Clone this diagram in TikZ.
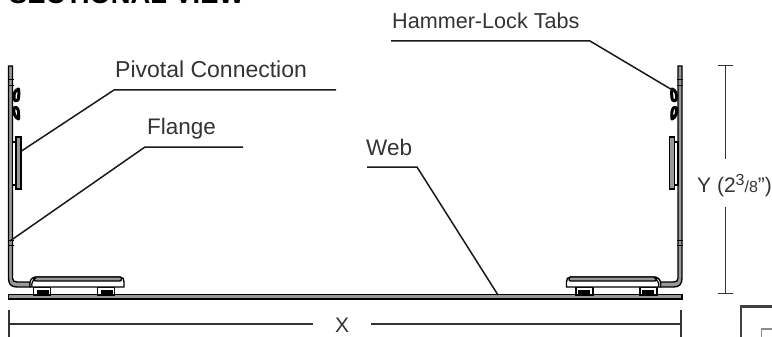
\documentclass[tikz,border=0pt]{standalone}
\usepackage{fontspec}
\setmainfont{Liberation Sans}
\usepackage{tikz}
\tikzset{
  lbl/.style={anchor=base west,inner sep=0pt,text=black!80,font=\fontsize{22.5}{24}\selectfont},
  leader/.style={line width=1.5pt,black!90},
  dimline/.style={line width=1.6pt,black!80},
  steel/.style={line width=1.35pt,fill=black!40},
  part/.style={line width=1.35pt,fill=white},
  tab/.style={line width=3pt,fill=white,line join=round}
}

\begin{document}
\begin{tikzpicture}[x=1pt,y=-1pt]
    \useasboundingbox (0,0) rectangle (772,337);
    % Title, cut by the top of the page
    \node[anchor=base west,inner sep=0pt,font=\fontsize{27.3}{28}\selectfont\bfseries] (title) at (9,3.5) {SECTIONAL VIEW};
    % Draw the web
    \draw[steel] (8.5,294.5) rectangle (682,299);
    % Draw the left side, then the same again mirrored for the right side
    \foreach \shiftx/\flip in {0/1, 690.5/-1}{
    \begin{scope}[shift={(\shiftx,0)},xscale=\flip]
      % legs under the foot
      \foreach \x in {33.5, 97.5}{
        \draw[part] (\x,287) rectangle (\x+17,295);
        \fill[black] (\x+3,290) rectangle (\x+15,294.5);
      }
      % flange with its bend and the foot
      \draw[steel] (8.5,66) -- (12.5,66) -- (12.5,278) .. controls (12.5,281) and (14,282) .. (17,282)
        -- (30,282) -- (30,287) -- (17,287) .. controls (11,287) and (8.5,284) .. (8.5,278) -- cycle;
      \draw[part] (30,287) -- (30,283) .. controls (30,279) and (33,277) .. (37,277) -- (120,277)
        .. controls (123,277) and (124,279) .. (124,282) -- (124,287) -- cycle;
      \draw[steel] (36,277) -- (120,277) .. controls (122,277) and (122,281) .. (120,281) -- (36,281)
        .. controls (33,281) and (33,277) .. (36,277) -- cycle;
      \draw[line width=1.2pt] (32,287) .. controls (31,283) and (33,280) .. (36,278);
      % small marks across the flange
      \foreach \y in {80, 86, 240, 245}{
        \draw[line width=1pt] (7.5,\y) -- (13.5,\y);
      }
      % pivotal plate
      \draw[part] (12.5,142) rectangle (16,185);
      \draw[steel] (16,137) rectangle (21,189);
      % hammer-lock tabs
      \draw[tab] (18.5,89) .. controls (15,90) and (13.5,94) .. (14,98) .. controls (14,101) and (17,102) .. (18,100)
        .. controls (19,97) and (19,92) .. (18.5,89) -- cycle;
      \draw[tab] (14,108) .. controls (13,112) and (15,118) .. (18.5,119) .. controls (19,115) and (19,110) .. (17,108)
        .. controls (16,107) and (15,107) .. (14,108) -- cycle;
    \end{scope}
    }
    % Draw the leader lines and their labels
    \node[lbl,font=\fontsize{23}{24}\selectfont] (pivotal) at (115,78) {Pivotal Connection};
    \coordinate (pivotalTip) at (21.5,151);
    \coordinate (pivotalBend) at (114,90);
    \coordinate (pivotalEnd) at (336,90);
    \draw[leader] (pivotalTip) -- (pivotalBend) -- (pivotalEnd);
    \node[lbl] (flange) at (147,135) {Flange};
    \coordinate (flangeTip) at (10,241);
    \coordinate (flangeBend) at (145,147);
    \coordinate (flangeEnd) at (243,147);
    \draw[leader] (flangeTip) -- (flangeBend) -- (flangeEnd);
    \node[lbl] (web) at (366,155) {Web};
    \coordinate (webStart) at (367,167);
    \coordinate (webBend) at (417,167);
    \coordinate (webTip) at (498,295);
    \draw[leader] (webStart) -- (webBend) -- (webTip);
    \node[lbl,font=\fontsize{21.6}{24}\selectfont] (hammer) at (392,29) {Hammer-Lock Tabs};
    \coordinate (hammerStart) at (391,41);
    \coordinate (hammerBend) at (590,41);
    \coordinate (hammerTip) at (674,91);
    \draw[leader] (hammerStart) -- (hammerBend) -- (hammerTip);
    % Draw the X dimension
    \node[lbl,font=\fontsize{21}{24}\selectfont] (dimX) at (335,332) {X};
    \coordinate (xLeft) at (9,324);
    \coordinate (xGapA) at (313,324);
    \coordinate (xGapB) at (371,324);
    \coordinate (xRight) at (681,324);
    \draw[dimline] (xLeft) -- (xGapA);
    \draw[dimline] (xGapB) -- (xRight);
    \draw[dimline] (9,310) -- (xLeft) -- (9,337);
    \draw[dimline] (681,310) -- (xRight) -- (681,337);
    % Draw the Y dimension
    \node[lbl,font=\fontsize{21}{24}\selectfont] (dimY) at (697,192) {Y (2\raisebox{6pt}{\fontsize{16}{16}\selectfont 3}{\fontsize{16}{16}\selectfont/8}")};
    \coordinate (yTop) at (725.5,65.5);
    \coordinate (yGapA) at (725.5,159);
    \coordinate (yGapB) at (725.5,207);
    \coordinate (yBottom) at (725.5,293.5);
    \draw[dimline] (yTop) -- (yGapA);
    \draw[dimline] (yGapB) -- (yBottom);
    \draw[dimline] (717.5,65.5) -- (733,65.5);
    \draw[dimline] (717.5,293.5) -- (733,293.5);
    % Corner of the next figure
    \draw[line width=2.2pt,black!75] (741,337) -- (741,306.5) -- (772,306.5);
    \draw[line width=1.2pt,black!45] (761.5,337) -- (761.5,329) -- (772,329);
\end{tikzpicture}
\end{document}
